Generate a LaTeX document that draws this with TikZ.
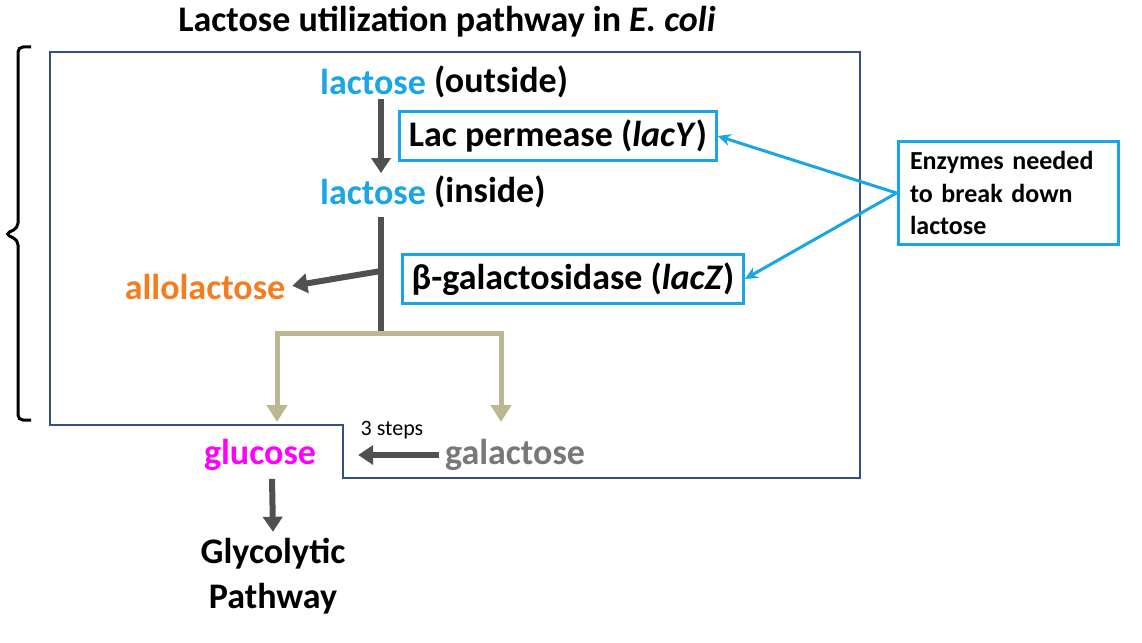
\documentclass[tikz,border=0pt]{standalone}
\usepackage{fontspec}
\setmainfont{Carlito}
\usetikzlibrary{arrows.meta}

\definecolor{framecol}{RGB}{52,80,124}
\definecolor{skyblue}{RGB}{26,165,228}
\definecolor{arrowgray}{RGB}{80,80,80}
\definecolor{tancol}{RGB}{190,183,145}
\definecolor{allocol}{RGB}{246,124,32}
\definecolor{galcol}{RGB}{120,120,120}
\definecolor{glucol}{RGB}{255,0,255}

\begin{document}
\begin{tikzpicture}[x=1pt,y=-1pt,
    txt/.style={font=\bfseries\fontsize{36}{45}\selectfont, inner sep=0pt},
    enzbox/.style={draw=skyblue, line width=3pt, inner xsep=9pt, inner ysep=0pt, minimum height=49pt},
    darrow/.style={draw=arrowgray, line width=6pt, -{Triangle[length=15pt,width=19pt]}},
    barrow/.style={draw=skyblue, line width=3pt, -{Stealth[length=13pt,width=12pt]}},
    tanarrow/.style={draw=tancol, line width=5pt, -{Triangle[length=17pt,width=20pt]}}]
    \useasboundingbox (0,0) rectangle (1142,642);

    \begin{scope}[line cap=butt]

    \draw [framecol, line width=2pt] (50,52) -- (860,52) -- (860,478) -- (343,478)
        -- (343,425) -- (50,425) -- cycle;
    \draw [line width=3pt, rounded corners=5pt] (31,47) -- (18,47) -- (18,228) -- (5,234)
        -- (18,240) -- (18,420) -- (31,420);

    \node [txt] (title) at (447,22) {Lactose utilization pathway in \textit{E. coli}};

    \node [txt, text=skyblue] (lacout) at (373,82) {lactose};
    \node [txt, anchor=west] (outlbl) at ([xshift=8pt]lacout.east) {(outside)};
    \node [txt, text=skyblue] (lacin) at (373,192) {lactose};
    \node [txt, anchor=west] (inlbl) at ([xshift=8pt]lacin.east) {(inside)};

    \node [txt, enzbox] (lacy) at (558,136) {Lac permease (\textit{lacY})};
    \node [txt, enzbox] (lacz) at (573,279) {β-galactosidase (\textit{lacZ})};
    \node [enzbox, font=\bfseries\fontsize{26}{32.5}\selectfont, align=left,
        text width=196pt, inner xsep=12pt, inner ysep=10pt]
        (note) at (1008,193) {Enzymes needed\\to break down\\lactose};

    \node [txt, text=allocol] (allo) at (205,287) {allolactose};
    \node [txt, text=glucol] (gluc) at (260,455) {glucose};
    \node [txt, text=galcol] (galac) at (515,455) {galactose};
    \node [inner sep=0pt, font=\fontsize{22}{26}\selectfont] (steps) at (392,430) {3 steps};
    \node [txt, align=center] (glyco) at (273,576) {Glycolytic\\Pathway};

    \coordinate (split) at (381,335);
    \coordinate (side) at (381,271);

    \draw [darrow] ([xshift=8pt,yshift=-4pt]lacout.south) -- ([xshift=8pt,yshift=6pt]lacin.north);
    \draw [arrowgray, line width=6pt] ([xshift=8pt,yshift=-12pt]lacin.south) -- (split);
    \draw [darrow, shorten >=7pt] (side) -- (allo.east);

    \draw [tancol, line width=5pt, line cap=rect] (277,333) -- (501,333);
    \foreach \x in {277,501}
        \draw [tanarrow] (\x,333) -- (\x,422);

    \draw [darrow, shorten <=6pt, shorten >=42pt] (galac.west) -- (gluc.east);
    \draw [darrow] ([xshift=12pt,yshift=-8pt]gluc.south) -- ([yshift=6pt]glyco.north);

    \draw [barrow] (note.west) -- (lacy.east);
    \draw [barrow] (note.west) -- (lacz.east);
    \end{scope}
\end{tikzpicture}
\end{document}
